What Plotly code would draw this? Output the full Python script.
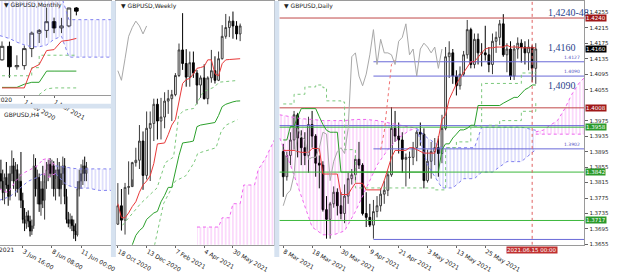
import plotly.graph_objects as go

W, H = 620, 274

# ================= DATA =================
# ---- Daily GBPUSD (bars from 8 Mar 2021) ----
d_open  = [1.3895,1.3830,1.3885,1.3925,1.3990,1.3930,1.3905,1.3885,1.3965,1.3935,
           1.3865,1.3860,1.3745,1.3720,1.3760,1.3790,1.3755,1.3735,1.3780,1.3825,
           1.3835,1.3875,1.3860,1.3735,1.3725,1.3705,1.3740,1.3755,1.3785,1.3795,
           1.3835,1.3955,1.3935,1.3925,1.3875,1.3880,1.3880,1.3905,1.3945,1.3940,
           1.3820,1.3870,1.3895,1.3905,1.3890,1.3955,1.4140,1.4150,1.4090,1.4065,
           1.4095,1.4145,1.4210,1.4120,1.4185,1.4150,1.4150,1.4145,1.4120,1.4180,
           1.4190,1.4225,1.4145,1.4160,1.4090,1.4160,1.4175,1.4165,1.4150,1.4165,
           1.4110]
d_high  = [1.3915,1.3895,1.3945,1.4000,1.3995,1.3950,1.3945,1.3985,1.4000,1.3940,
           1.3885,1.3870,1.3780,1.3765,1.3805,1.3800,1.3790,1.3810,1.3840,1.3850,
           1.3885,1.3920,1.3865,1.3790,1.3760,1.3770,1.3780,1.3800,1.3820,1.3845,
           1.4010,1.4000,1.3970,1.3945,1.3890,1.3895,1.3920,1.3950,1.3970,1.3955,
           1.3900,1.3920,1.3930,1.3935,1.3990,1.4165,1.4180,1.4160,1.4105,1.4115,
           1.4155,1.4235,1.4215,1.4200,1.4200,1.4175,1.4220,1.4165,1.4200,1.4205,
           1.4235,1.4250,1.4175,1.4180,1.4170,1.4190,1.4185,1.4180,1.4185,1.4170,
           1.4175]
d_low   = [1.3778,1.3820,1.3860,1.3900,1.3880,1.3860,1.3860,1.3840,1.3905,1.3830,
           1.3800,1.3740,1.3670,1.3670,1.3750,1.3730,1.3720,1.3710,1.3760,1.3810,
           1.3820,1.3850,1.3730,1.3700,1.3700,1.3670,1.3725,1.3740,1.3760,1.3780,
           1.3830,1.3920,1.3890,1.3840,1.3805,1.3825,1.3860,1.3870,1.3910,1.3800,
           1.3815,1.3825,1.3860,1.3830,1.3865,1.3950,1.4085,1.4070,1.4040,1.4055,
           1.4090,1.4135,1.4110,1.4110,1.4120,1.4115,1.4130,1.4100,1.4095,1.4150,
           1.4170,1.4140,1.4100,1.4080,1.4080,1.4135,1.4125,1.4120,1.4105,1.4075,
           1.4070]
d_close = [1.3830,1.3885,1.3925,1.3990,1.3930,1.3905,1.3885,1.3965,1.3935,1.3865,
           1.3860,1.3745,1.3720,1.3760,1.3790,1.3755,1.3735,1.3780,1.3825,1.3835,
           1.3875,1.3860,1.3735,1.3725,1.3705,1.3740,1.3755,1.3785,1.3795,1.3835,
           1.3955,1.3935,1.3925,1.3875,1.3880,1.3880,1.3905,1.3945,1.3940,1.3820,
           1.3870,1.3895,1.3905,1.3890,1.3955,1.4140,1.4150,1.4090,1.4065,1.4095,
           1.4145,1.4210,1.4120,1.4185,1.4150,1.4150,1.4145,1.4120,1.4180,1.4190,
           1.4225,1.4145,1.4160,1.4090,1.4160,1.4175,1.4165,1.4150,1.4165,1.4110,
           1.4160]
d_tick_pos    = [0, 8, 16, 24, 32, 40, 48, 56]
d_tick_labels = ["8 Mar 2021", "18 Mar 2021", "30 Mar 2021", "9 Apr 2021",
                 "21 Apr 2021", "3 May 2021", "13 May 2021", "25 May 2021"]
d_tenkan = [1.3898,1.3898,1.3898,1.3898,1.3895,1.3893,1.3893,1.3893,1.3903,1.3903,
            1.3903,1.3837,1.3837,1.3837,1.3837,1.3837,1.3784,1.3784,1.3784,1.3800,
            1.3813,1.3813,1.3813,1.3796,1.3796,1.3796,1.3796,1.3796,1.3820,1.3850,
            1.3880,1.3898,1.3898,1.3898,1.3898,1.3905,1.3905,1.3900,1.3895,1.3891,
            1.3891,1.3891,1.3891,1.3930,1.3977,1.3990,1.4030,1.4050,1.4070,1.4085,
            1.4100,1.4115,1.4127,1.4127,1.4140,1.4150,1.4160,1.4163,1.4163,1.4165,
            1.4165,1.4165,1.4170,1.4165,1.4165,1.4165,1.4163,1.4163,1.4163,1.4163,
            1.4163]
d_kijun  = [1.3925,1.3925,1.3960,1.3960,1.3985,1.4006,1.4006,1.4006,1.4006,1.4006,
            1.3985,1.3965,1.3950,1.3945,1.3945,1.3945,1.3842,1.3842,1.3842,1.3842,
            1.3842,1.3842,1.3842,1.3842,1.3842,1.3842,1.3842,1.3842,1.3842,1.3842,
            1.3842,1.3842,1.3842,1.3842,1.3842,1.3842,1.3842,1.3842,1.3842,1.3842,
            1.3842,1.3842,1.3842,1.3842,1.3900,1.3915,1.3915,1.3930,1.3940,1.3951,
            1.3951,1.3955,1.3963,1.3963,1.4014,1.4014,1.4014,1.4014,1.4014,1.4014,
            1.4014,1.4020,1.4025,1.4030,1.4035,1.4035,1.4045,1.4055,1.4060,1.4067,
            1.4067]
d_dot1_x = [0, 3, 6, 9, 11, 12, 16, 17, 20, 30, 42, 45, 48, 52, 55, 62, 66, 70]
d_dot1_y = [1.4018,1.4043,1.4062,1.4067,1.4060,1.4026,1.4023,1.3900,1.3801,1.3801,
            1.3796,1.3905,1.3920,1.3960,1.4071,1.4071,1.4098,1.4100]
d_dot2_x = [57, 60, 66, 70]
d_dot2_y = [1.3963, 1.3975, 1.3999, 1.4024]
d_reddot_x = [27, 28, 30, 31]
d_reddot_y = [1.3900, 1.3946, 1.4120, 1.4131]
# Kumo (daily)
d_kumo_a_x  = [-1, 2, 5, 8, 11, 14, 17, 20, 23, 26, 29, 32, 35, 37]
d_kumo_a_up = [1.3990,1.3985,1.3980,1.3978,1.3975,1.3975,1.3975,1.3978,1.3978,1.3975,
               1.3970,1.3965,1.3960,1.3955]
d_kumo_a_lo = [1.3930,1.3860,1.3780,1.3700,1.3680,1.3680,1.3690,1.3740,1.3800,1.3860,
               1.3900,1.3930,1.3950,1.3955]
d_kumo_b_x  = [37, 40, 44, 47, 50, 53, 55, 58, 62, 66, 70]
d_kumo_b_up = [1.3955,1.3930,1.3905,1.3905,1.3905,1.3905,1.3958,1.3958,1.3958,1.3958,1.3950]
d_kumo_b_lo = [1.3955,1.3860,1.3801,1.3801,1.3825,1.3825,1.3842,1.3842,1.3869,1.3869,1.3900]
d_kumo_c_x  = [70, 72, 74, 76, 78, 80, 82, 84]
d_kumo_c_up = [1.3946,1.3950,1.3963,1.3975,1.4005,1.4043,1.4072,1.4091]
d_kumo_c_lo = [1.3940,1.3940,1.3940,1.3940,1.3940,1.3940,1.3940,1.3940]
# horizontal levels (daily)
lvl_full_vals   = [1.4240, 1.4008, 1.3958, 1.3842, 1.3717, 1.3962]
lvl_full_colors = ["#c04848", "#c04848", "#3cb83c", "#3cb83c", "#3cb83c", "#6a6ad8"]
lvl_part_vals   = [1.4127, 1.4090, 1.3902, 1.3668]
lvl_part_start  = 25
d_price_ticks = [1.4255,1.4215,1.4175,1.4135,1.4095,1.4055,1.3975,1.3935,
                 1.3895,1.3855,1.3815,1.3775,1.3735,1.3695,1.3655]
box_vals   = [1.4240, 1.4160, 1.4008, 1.3958, 1.3842, 1.3717]
box_colors = ["#a01818", "#000000", "#a01818", "#2a9a2a", "#2a9a2a", "#2a9a2a"]
note_texts = ["1,4240-48", "1,4160", "1,4090"]
note_vals  = [1.4255, 1.4165, 1.4065]
cursor_bar = 69
cursor_label = "2021.06.15 00:00"

# ---- Weekly ----
w_open  = [1.2920,1.3035,1.2945,1.3150,1.3155,1.3305,1.3320,1.3440,1.3225,1.3520,
           1.3550,1.3670,1.3565,1.3590,1.3690,1.3705,1.3730,1.3850,1.4010,1.3925,
           1.3840,1.3930,1.3865,1.3790,1.3835,1.3705,1.3835,1.3880,1.3820,1.3955,
           1.4095,1.4150,1.4190,1.4160,1.4110]
w_high  = [1.3177,1.3140,1.3178,1.3313,1.3310,1.3398,1.3540,1.3500,1.3625,1.3625,
           1.3705,1.3705,1.3710,1.3745,1.3760,1.3760,1.3865,1.4050,1.4240,1.4015,
           1.4000,1.4000,1.3885,1.3850,1.3920,1.3845,1.4010,1.3970,1.4000,1.4165,
           1.4235,1.4220,1.4250,1.4190,1.4175]
w_low   = [1.2915,1.2880,1.2855,1.3105,1.3200,1.3280,1.3265,1.3135,1.3200,1.3190,
           1.3440,1.3450,1.3450,1.3520,1.3610,1.3565,1.3720,1.3840,1.3885,1.3780,
           1.3780,1.3835,1.3670,1.3710,1.3700,1.3670,1.3805,1.3800,1.3815,1.3950,
           1.4080,1.4090,1.4080,1.4075,1.4065]
w_close = [1.3035,1.2945,1.3150,1.3155,1.3305,1.3320,1.3440,1.3225,1.3520,1.3550,
           1.3670,1.3565,1.3590,1.3690,1.3705,1.3730,1.3850,1.4010,1.3925,1.3840,
           1.3930,1.3865,1.3790,1.3835,1.3705,1.3835,1.3880,1.3820,1.3955,1.4095,
           1.4150,1.4190,1.4160,1.4110,1.4160]
w_tick_pos    = [0, 8, 16, 24, 32]
w_tick_labels = ["18 Oct 2020", "13 Dec 2020", "7 Feb 2021", "4 Apr 2021", "30 May 2021"]
w_tenkan = [1.3048,1.2960,1.2960,1.2990,1.3030,1.3060,1.3120,1.3165,1.3190,1.3223,
            1.3300,1.3422,1.3425,1.3428,1.3480,1.3540,1.3574,1.3700,1.3800,1.3825,
            1.3831,1.3860,1.3895,1.3900,1.3907,1.3948,1.3948,1.3860,1.3848,1.3924,
            1.3948,1.3950,1.3952,1.3954,1.3955]
w_kijun  = [1.2600,1.2600,1.2650,1.2700,1.2790,1.2850,1.2880,1.2900,1.2950,1.2972,
            1.2990,1.3000,1.3060,1.3100,1.3150,1.3150,1.3250,1.3350,1.3428,1.3430,
            1.3435,1.3440,1.3530,1.3540,1.3545,1.3550,1.3552,1.3556,1.3600,1.3655,
            1.3670,1.3680,1.3685,1.3690,1.3691]
w_dot1_x = [1.3, 6.3, 10.9, 13.2, 15.5, 16.9, 18.3, 21.1, 23.8, 26.9, 28.1, 33.3]
w_dot1_y = [1.2913,1.3048,1.3147,1.3305,1.3340,1.3597,1.3632,1.3644,1.3749,1.3778,1.3808,1.3819]
w_dot2_x = [9.5, 12.7, 15.9, 18.9, 21.2, 22.2, 27.3, 28.7, 30.0, 33.3]
w_dot2_y = [1.2715,1.3048,1.3188,1.3223,1.3305,1.3363,1.3398,1.3498,1.3539,1.3574]
w_kumo_x  = [22, 28, 29, 31, 32, 34, 35, 38, 39, 41, 44]
w_kumo_up = [1.2902,1.2902,1.2960,1.2960,1.3048,1.3048,1.3165,1.3165,1.3260,1.3330,1.3470]
w_kumo_lo = [1.2500,1.2500,1.2500,1.2500,1.2500,1.2500,1.2500,1.2500,1.2500,1.2500,1.2500]

# ---- Monthly ----
m_open  = [1.3075,1.3375,1.2920,1.2945,1.3325,1.3670,1.3730,1.3925,1.3785,1.3830,1.4230]
m_high  = [1.3485,1.3480,1.3175,1.3395,1.3705,1.3760,1.4240,1.4015,1.4010,1.4235,1.4250]
m_low   = [1.3055,1.2675,1.2855,1.2855,1.3135,1.3450,1.3565,1.3670,1.3670,1.3800,1.4065]
m_close = [1.3375,1.2920,1.2945,1.3325,1.3670,1.3730,1.3925,1.3785,1.3830,1.4230,1.4160]
m_tick_pos    = [3, 7]
m_tick_labels = ["1 Nov 2020", "1 Mar 2021"]
m_cut_label   = "1 Jul 2020"
m_tenkan = [1.2448,1.2448,1.2448,1.2448,1.2885,1.2969,1.3281,1.3302,1.3490,1.3511,1.3552]
m_kijun  = [1.2460,1.2460,1.2460,1.2530,1.2573,1.2573,1.2823,1.2823,1.2823,1.2823,1.2823]
m_dot1   = [1.2719,1.2719,1.2719,1.2719,1.2900,1.3177,1.3177,1.3177,1.3177,1.3177,1.3177]
m_dot2_x = [5, 6, 7, 10]
m_dot2_y = [1.2300, 1.2427, 1.2448, 1.2448]
m_kumo_x  = [-0.3, 1, 2, 3, 4, 5, 6, 7, 8, 9, 10, 12, 15]
m_kumo_up = [1.4500,1.4500,1.4500,1.4500,1.4500,1.4500,1.4500,1.4500,1.4500,1.3970,1.3970,1.3970,1.3970]
m_kumo_lo = [1.3615,1.3550,1.3469,1.3406,1.3365,1.3365,1.3406,1.3531,1.3600,1.3135,1.3135,1.3135,1.3135]

# ---- H4 ----
h_open  = [1.4160,1.4150,1.4135,1.4155,1.4145,1.4130,1.4160,1.4170,1.4150,1.4165,
           1.4140,1.4150,1.4125,1.4100,1.4095,1.4105,1.4098,1.4085,1.4092,1.4170,
           1.4140,1.4155,1.4120,1.4140,1.4125,1.4150,1.4165,1.4172,1.4160,1.4170,
           1.4140,1.4155,1.4165,1.4140,1.4160,1.4170,1.4130,1.4100,1.4095,1.4100,
           1.4092,1.4085,1.4080,1.4140,1.4150,1.4160,1.4170,1.4160]
h_high  = [1.4178,1.4165,1.4160,1.4175,1.4160,1.4170,1.4190,1.4180,1.4175,1.4172,
           1.4160,1.4188,1.4135,1.4115,1.4110,1.4112,1.4105,1.4100,1.4185,1.4180,
           1.4165,1.4160,1.4150,1.4170,1.4160,1.4175,1.4178,1.4180,1.4178,1.4176,
           1.4165,1.4180,1.4175,1.4170,1.4182,1.4180,1.4140,1.4110,1.4108,1.4105,
           1.4100,1.4095,1.4150,1.4165,1.4172,1.4178,1.4182,1.4175]
h_low   = [1.4140,1.4125,1.4120,1.4140,1.4118,1.4125,1.4150,1.4140,1.4130,1.4135,
           1.4125,1.4115,1.4095,1.4085,1.4088,1.4090,1.4078,1.4080,1.4088,1.4130,
           1.4120,1.4110,1.4105,1.4115,1.4100,1.4140,1.4150,1.4155,1.4140,1.4130,
           1.4125,1.4140,1.4130,1.4120,1.4145,1.4120,1.4095,1.4090,1.4088,1.4085,
           1.4075,1.4072,1.4078,1.4130,1.4140,1.4145,1.4150,1.4150]
h_close = [1.4150,1.4135,1.4155,1.4145,1.4130,1.4160,1.4170,1.4150,1.4165,1.4140,
           1.4150,1.4125,1.4100,1.4095,1.4105,1.4098,1.4085,1.4092,1.4170,1.4140,
           1.4155,1.4120,1.4140,1.4125,1.4150,1.4165,1.4172,1.4160,1.4170,1.4140,
           1.4155,1.4165,1.4140,1.4160,1.4170,1.4130,1.4100,1.4095,1.4100,1.4092,
           1.4085,1.4080,1.4140,1.4150,1.4160,1.4170,1.4160,1.4168]
h_tick_pos    = [12, 28, 44]
h_tick_labels = ["3 Jun 16:00", "8 Jun 08:00", "11 Jun 00:00"]
h_cut_label   = "1 Jun 2021"
h_kumo_a_x  = [23, 26, 30]
h_kumo_a_up = [1.4178, 1.4180, 1.4170]
h_kumo_a_lo = [1.4160, 1.4155, 1.4160]
h_kumo_b_x  = [30, 36, 42, 48, 54, 61]
h_kumo_b_up = [1.4170, 1.4168, 1.4166, 1.4166, 1.4166, 1.4166]
h_kumo_b_lo = [1.4160, 1.4145, 1.4141, 1.4141, 1.4138, 1.4138]
h_span1_x = [-1, 4, 8, 12, 16, 20, 23]
h_span1_y = [1.4140, 1.4135, 1.4150, 1.4160, 1.4165, 1.4170, 1.4178]
h_span2_x = [-1, 5, 10, 15, 20, 23]
h_span2_y = [1.4125, 1.4130, 1.4140, 1.4150, 1.4155, 1.4160]

# ================= FIGURE =================
fig = go.Figure()

def px_x(p):
    return p / W

def px_y(p):
    return 1 - p / H

INC = dict(line=dict(color="#3a3a3a", width=1), fillcolor="#ffffff")
DEC = dict(line=dict(color="#000000", width=1), fillcolor="#000000")

def candles(o, h, l, c, xa, ya):
    x = list(range(len(o)))
    fig.add_trace(go.Candlestick(x=x, open=o, high=h, low=l, close=c, xaxis=xa, yaxis=ya,
                                 increasing=INC, decreasing=DEC, whiskerwidth=0,
                                 showlegend=False, hoverinfo="skip"))

def line(x, y, xa, ya, color, dash="solid", width=1, shape="linear"):
    fig.add_trace(go.Scatter(x=x, y=y, xaxis=xa, yaxis=ya, mode="lines",
                             line=dict(color=color, width=width, dash=dash, shape=shape),
                             showlegend=False, hoverinfo="skip"))

def kumo(x, up, lo, xa, ya, color):
    fig.add_trace(go.Scatter(x=x, y=lo, xaxis=xa, yaxis=ya, mode="lines",
                             line=dict(color=color, width=1, dash="dot"),
                             showlegend=False, hoverinfo="skip"))
    fig.add_trace(go.Scatter(x=x, y=up, xaxis=xa, yaxis=ya, mode="lines",
                             line=dict(color=color, width=1, dash="dot"),
                             fill="tonexty", fillcolor="rgba(0,0,0,0)",
                             fillpattern=dict(shape="|", size=3.6, solidity=0.25,
                                              fgcolor=color, bgcolor="rgba(0,0,0,0)"),
                             showlegend=False, hoverinfo="skip"))

RED, GREEN, LGREEN, GRAY = "#e83a3a", "#2ca02c", "#7cc87c", "#a8a8a8"
PINK, BLUE = "#ee66ee", "#8080f0"

# ---- Monthly (x, y) ----
kumo(m_kumo_x, m_kumo_up, m_kumo_lo, "x", "y", BLUE)
m_idx = list(range(len(m_open)))
line(m_idx, m_dot1, "x", "y", LGREEN, dash="dot", shape="hv")
line(m_dot2_x, m_dot2_y, "x", "y", LGREEN, dash="dot")
line(m_idx, m_kijun, "x", "y", GREEN)
line(m_idx, m_tenkan, "x", "y", RED)
candles(m_open, m_high, m_low, m_close, "x", "y")

# ---- H4 (x2, y2) ----
kumo(h_kumo_a_x, h_kumo_a_up, h_kumo_a_lo, "x2", "y2", PINK)
kumo(h_kumo_b_x, h_kumo_b_up, h_kumo_b_lo, "x2", "y2", BLUE)
line(h_span1_x, h_span1_y, "x2", "y2", PINK, dash="dot")
line(h_span2_x, h_span2_y, "x2", "y2", BLUE, dash="dot")
candles(h_open, h_high, h_low, h_close, "x2", "y2")

# ---- Weekly (x3, y3) ----
kumo(w_kumo_x, w_kumo_up, w_kumo_lo, "x3", "y3", PINK)
w_idx = list(range(len(w_open)))
line(w_dot1_x, w_dot1_y, "x3", "y3", LGREEN, dash="dot")
line(w_dot2_x, w_dot2_y, "x3", "y3", LGREEN, dash="dot")
line(w_idx, w_kijun, "x3", "y3", GREEN)
line(w_idx, w_tenkan, "x3", "y3", RED)
line([k - 26 for k in range(26, len(w_close))], w_close[26:], "x3", "y3", GRAY)
candles(w_open, w_high, w_low, w_close, "x3", "y3")

# ---- Daily (x4, y4) ----
kumo(d_kumo_a_x, d_kumo_a_up, d_kumo_a_lo, "x4", "y4", PINK)
kumo(d_kumo_b_x, d_kumo_b_up, d_kumo_b_lo, "x4", "y4", BLUE)
kumo(d_kumo_c_x, d_kumo_c_up, d_kumo_c_lo, "x4", "y4", PINK)
D_RANGE = [-1.1, 83.45]
D_YRANGE = [1.3654, 1.4284]
for v, col in zip(lvl_full_vals, lvl_full_colors):
    line(D_RANGE, [v, v], "x4", "y4", col)
for v in lvl_part_vals:
    line([lvl_part_start, D_RANGE[1]], [v, v], "x4", "y4", "#6a6ad8")
d_idx = list(range(len(d_open)))
line(d_dot1_x, d_dot1_y, "x4", "y4", LGREEN, dash="dot", shape="hv")
line(d_dot2_x, d_dot2_y, "x4", "y4", LGREEN, dash="dot", shape="hv")
line(d_reddot_x, d_reddot_y, "x4", "y4", "#f07070", dash="dot")
line(d_idx, d_kijun, "x4", "y4", GREEN)
line(d_idx, d_tenkan, "x4", "y4", RED)
line([i - 26 for i in range(26, len(d_close))], d_close[26:], "x4", "y4", GRAY)
line([cursor_bar, cursor_bar], D_YRANGE, "x4", "y4", "#e06060", dash="dot")
candles(d_open, d_high, d_low, d_close, "x4", "y4")

# ================= LAYOUT =================
TF = dict(family="DejaVu Sans, Arial", size=6, color="#222")
AX = dict(showgrid=False, zeroline=False, showline=True, mirror=True, linecolor="#9a9a9a",
          linewidth=1, fixedrange=True)

def xax(domain, rng, tv, tt, anchor):
    return dict(AX, domain=domain, range=rng, tickvals=tv, ticktext=tt, ticks="outside",
                ticklen=2, tickcolor="#666", tickfont=TF, ticklabelposition="outside right",
                anchor=anchor, rangeslider=dict(visible=False))

def yax(domain, rng, anchor, show=False):
    d = dict(AX, domain=domain, range=rng, anchor=anchor)
    if show:
        d.update(side="right", tickvals=d_price_ticks, tickformat=".4f", ticks="outside",
                 ticklen=3, tickcolor="#666",
                 tickfont=dict(family="DejaVu Sans, Arial", size=5.5, color="#222"))
    else:
        d.update(showticklabels=False, ticks="")
    return d

bot = px_y(261)
fig.update_layout(
    width=W, height=H, margin=dict(l=0, r=0, t=0, b=0),
    paper_bgcolor="white", plot_bgcolor="white",
    xaxis=xax([0, px_x(112)], [-0.27, 14.65], m_tick_pos, m_tick_labels, "y"),
    yaxis=yax([px_y(101), 1], [1.2282, 1.4386], "x"),
    xaxis2=xax([0, px_x(112)], [-0.5, 60.4], h_tick_pos, h_tick_labels, "y2"),
    yaxis2=yax([bot, px_y(115)], [1.40671, 1.42447], "x2"),
    xaxis3=xax([px_x(117), px_x(277)], [-0.55, 43.5], w_tick_pos, w_tick_labels, "y3"),
    yaxis3=yax([bot, 1], [1.27906, 1.4316], "x3"),
    xaxis4=xax([px_x(282), px_x(590)], D_RANGE, d_tick_pos, d_tick_labels, "y4"),
    yaxis4=yax([bot, 1], D_YRANGE, "x4", show=True),
)

shapes = [
    dict(type="rect", xref="paper", yref="paper", x0=px_x(112), x1=px_x(117), y0=0, y1=1,
         fillcolor="#d6e2f0", line=dict(width=0), layer="above"),
    dict(type="rect", xref="paper", yref="paper", x0=px_x(277), x1=px_x(282), y0=0, y1=1,
         fillcolor="#d6e2f0", line=dict(width=0), layer="above"),
    dict(type="rect", xref="paper", yref="paper", x0=0, x1=px_x(112), y0=px_y(115), y1=px_y(110),
         fillcolor="#d6e2f0", line=dict(width=0), layer="above"),
]
fig.update_layout(shapes=shapes)

ann = []
for txt, xp, yp in [("▼ GBPUSD,Monthly", 2, 4), ("GBPUSD,H4", 2, 121),
                    ("▼ GBPUSD,Weekly", 120, 5), ("▼ GBPUSD,Daily", 285, 5)]:
    ann.append(dict(text=txt, xref="paper", yref="paper", x=px_x(xp), y=px_y(yp),
                    xanchor="left", yanchor="middle", showarrow=False, font=TF))
# date labels partly cut off by the left window edge
for txt, xp, yp in [(m_cut_label, 14, 105.5), (h_cut_label, 16, 266)]:
    ann.append(dict(text=txt, xref="paper", yref="paper", x=px_x(xp), y=px_y(yp),
                    xanchor="right", yanchor="middle", showarrow=False, font=TF))
for t, v in zip(note_texts, note_vals):
    ann.append(dict(text=t, xref="paper", yref="y4", x=px_x(551), y=v, xanchor="left",
                    yanchor="middle", showarrow=False,
                    font=dict(family="Liberation Serif, Times New Roman", size=10, color="#2b3f8c")))
for v in lvl_part_vals[:3]:
    ann.append(dict(text=f"{v:.4f}", xref="paper", yref="y4", x=px_x(588), y=v, xanchor="right",
                    yanchor="bottom", showarrow=False,
                    font=dict(family="DejaVu Sans", size=4.5, color="#5050c0")))
for v, col in zip(box_vals, box_colors):
    ann.append(dict(text=f"{v:.4f}", xref="paper", yref="y4", x=px_x(591), y=v, xanchor="left",
                    yanchor="middle", showarrow=False, bgcolor=col, borderpad=0,
                    font=dict(family="DejaVu Sans", size=5.5, color="white")))
ann.append(dict(text=cursor_label, xref="x4", yref="paper", x=cursor_bar, y=px_y(266),
                xanchor="center", yanchor="middle", showarrow=False, bgcolor="#c03030",
                borderpad=0, font=dict(family="DejaVu Sans", size=5.5, color="white")))
fig.update_layout(annotations=ann)

fig.write_html("out.html")
